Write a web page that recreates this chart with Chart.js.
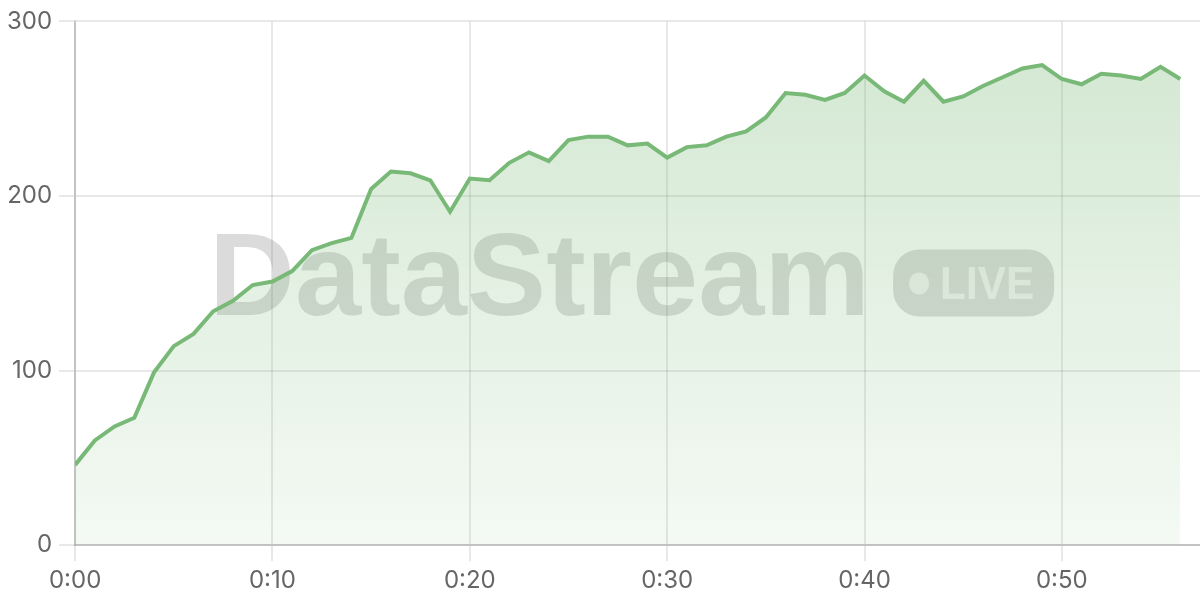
<!DOCTYPE html>
<html lang="en">
<head>
    <meta charset="UTF-8">
    <title>DataStream Live</title>
    <script src="https://cdn.jsdelivr.net/npm/chart.js"></script>
    <style>
        body {
            margin: 0;
            background: #fff;
        }

        .chart-box {
            width: 1200px;
            height: 600px;
        }
    </style>
</head>
<body>
    <div class="chart-box">
        <canvas id="liveChart"></canvas>
    </div>

    <script>
        // readings, one per step (0:00 .. 0:56)
        const readings = [
            46, 60, 68, 73, 99, 114, 121, 134, 140, 149,
            151, 157, 169, 173, 176, 204, 214, 213, 209, 191,
            210, 209, 219, 225, 220, 232, 234, 234, 229, 230,
            222, 228, 229, 234, 237, 245, 259, 258, 255, 259,
            269, 260, 254, 266, 254, 257, 263, 268, 273, 275,
            267, 264, 270, 269, 267, 274, 267
        ];
        const xTickValues = [0, 10, 20, 30, 40, 50];
        const xTickLabels = ['0:00', '0:10', '0:20', '0:30', '0:40', '0:50'];
        const yTickValues = [0, 100, 200, 300];

        const lineGreen = '#79b977';

        // watermark behind the line
        const watermark = {
            id: 'watermark',
            beforeDatasetsDraw(chart) {
                const { ctx, chartArea } = chart;
                const left = chartArea.left + 134;
                const base = chartArea.top + 294;
                ctx.save();
                ctx.fillStyle = 'rgba(0,0,0,0.14)';
                ctx.font = 'bold 116px "Liberation Sans", Arial, sans-serif';
                ctx.textBaseline = 'alphabetic';
                const w = ctx.measureText('DataStream').width;
                ctx.translate(left, base);
                ctx.scale(661 / w, 1);
                ctx.fillText('DataStream', 0, 0);
                ctx.restore();

                // LIVE badge
                const bx = chartArea.left + 818, by = chartArea.top + 228;
                ctx.save();
                ctx.fillStyle = 'rgba(0,0,0,0.14)';
                ctx.beginPath();
                ctx.roundRect(bx, by, 161, 67, 26);
                ctx.fill();
                ctx.fillStyle = 'rgba(255,255,255,0.65)';
                ctx.beginPath();
                ctx.ellipse(bx + 26, by + 34, 10, 11, 0, 0, Math.PI * 2);
                ctx.fill();
                ctx.font = 'bold 47px "Liberation Sans", Arial, sans-serif';
                const lw = ctx.measureText('LIVE').width;
                ctx.translate(bx + 47, by + 50);
                ctx.scale(94 / lw, 1);
                ctx.fillText('LIVE', 0, 0);
                ctx.restore();
            }
        };

        const ctx = document.getElementById('liveChart').getContext('2d');
        new Chart(ctx, {
            type: 'line',
            data: {
                datasets: [{
                    data: readings.map((v, i) => ({ x: i, y: v })),
                    borderColor: lineGreen,
                    borderWidth: 4,
                    pointRadius: 0,
                    tension: 0,
                    fill: 'origin',
                    backgroundColor(context) {
                        const area = context.chart.chartArea;
                        if (!area) return 'rgba(121,185,119,0.2)';
                        const g = context.chart.ctx.createLinearGradient(0, area.top, 0, area.bottom);
                        g.addColorStop(0, 'rgba(121,185,119,0.34)');
                        g.addColorStop(1, 'rgba(121,185,119,0.08)');
                        return g;
                    }
                }]
            },
            options: {
                responsive: true,
                maintainAspectRatio: false,
                animation: false,
                devicePixelRatio: 1,
                layout: {
                    padding: { top: 9, left: 0, right: 0, bottom: 0 }
                },
                plugins: {
                    legend: { display: false },
                    tooltip: { enabled: false }
                },
                scales: {
                    x: {
                        type: 'linear',
                        min: 0,
                        max: 57,
                        afterBuildTicks(axis) {
                            axis.ticks = xTickValues.map(v => ({ value: v }));
                        },
                        ticks: {
                            includeBounds: false,
                            maxRotation: 0,
                            padding: 5,
                            color: '#666',
                            font: { family: 'Inter', size: 24 },
                            callback: v => xTickLabels[xTickValues.indexOf(v)]
                        },
                        grid: {
                            color: 'rgba(0,0,0,0.09)',
                            lineWidth: 2,
                            tickLength: 16
                        },
                        border: { color: 'rgba(0,0,0,0.16)', width: 2 }
                    },
                    y: {
                        min: 0,
                        max: 300,
                        afterBuildTicks(axis) {
                            axis.ticks = yTickValues.map(v => ({ value: v }));
                        },
                        ticks: {
                            padding: 7,
                            color: '#666',
                            font: { family: 'Inter', size: 24 }
                        },
                        grid: {
                            color: 'rgba(0,0,0,0.09)',
                            lineWidth: 2,
                            tickLength: 16
                        },
                        border: { color: 'rgba(0,0,0,0.16)', width: 2 }
                    }
                }
            },
            plugins: [watermark]
        });
    </script>
</body>
</html>
